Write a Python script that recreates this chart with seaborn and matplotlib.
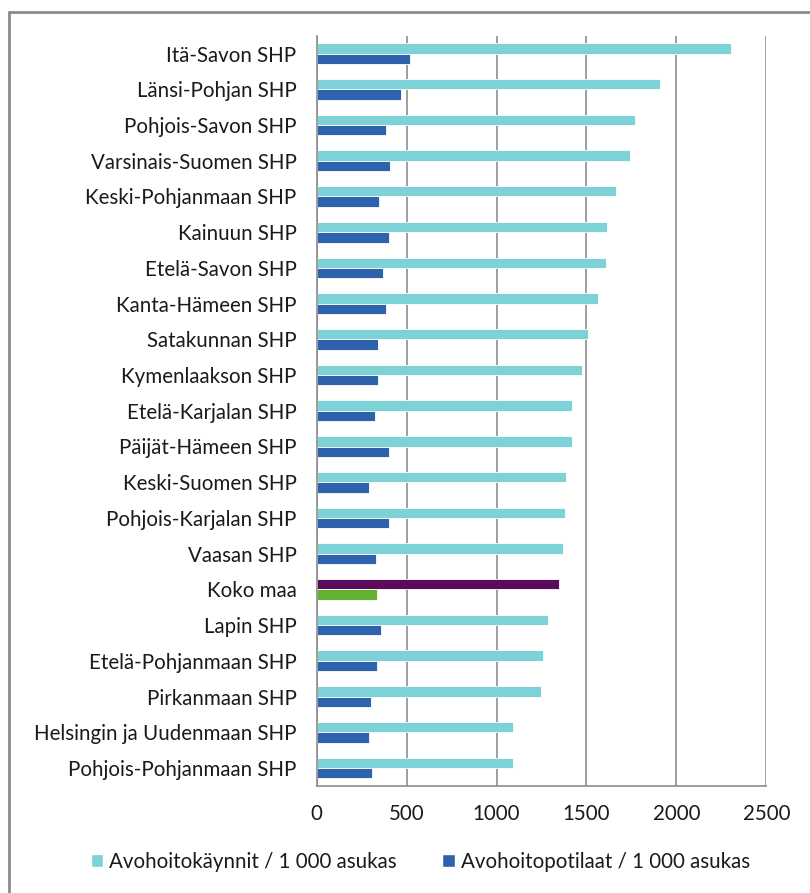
import pandas as pd
import matplotlib
matplotlib.use('Agg')
import matplotlib.pyplot as plt
import seaborn as sns
import numpy as np
from matplotlib.lines import Line2D
from matplotlib.patches import Patch

regions = [
    "Itä-Savon SHP", "Länsi-Pohjan SHP", "Pohjois-Savon SHP", "Varsinais-Suomen SHP",
    "Keski-Pohjanmaan SHP", "Kainuun SHP", "Etelä-Savon SHP", "Kanta-Hämeen SHP",
    "Satakunnan SHP", "Kymenlaakson SHP", "Etelä-Karjalan SHP", "Päijät-Hämeen SHP",
    "Keski-Suomen SHP", "Pohjois-Karjalan SHP", "Vaasan SHP", "Koko maa",
    "Lapin SHP", "Etelä-Pohjanmaan SHP", "Pirkanmaan SHP",
    "Helsingin ja Uudenmaan SHP", "Pohjois-Pohjanmaan SHP",
]
kaynnit = [2306, 1911, 1772, 1744, 1667, 1617, 1606, 1567, 1511, 1478, 1422,
           1417, 1389, 1378, 1367, 1350, 1289, 1256, 1250, 1094, 1094]
potilaat = [517, 467, 383, 406, 344, 400, 367, 383, 339, 339, 322,
            400, 289, 400, 328, 333, 356, 333, 300, 289, 306]

s1 = "Avohoitokäynnit / 1 000 asukas"
s2 = "Avohoitopotilaat / 1 000 asukas"

df = pd.concat([
    pd.DataFrame({"alue": regions, "arvo": kaynnit, "sarja": s1}),
    pd.DataFrame({"alue": regions, "arvo": potilaat, "sarja": s2}),
])

c_light = "#7dd2d8"
c_dark = "#2e62ad"
c_purple = "#5a0c5a"
c_green = "#62b22f"
txt = "#1a1a1a"
fs = 14.8

sns.set_style("white")
plt.rcParams['font.family'] = ['Lato', 'DejaVu Sans']

fig = plt.figure(figsize=(8.1, 8.93), dpi=100)
ax = fig.add_axes([0.391, 0.120, 0.555, 0.840])

sns.barplot(data=df, y="alue", x="arvo", hue="sarja", orient="h",
            palette=[c_light, c_dark], saturation=1, width=0.58, ax=ax,
            edgecolor="white", linewidth=0.6, legend=False)

# Koko maa in its own colours
k = regions.index("Koko maa")
ax.containers[0][k].set_facecolor(c_purple)
ax.containers[1][k].set_facecolor(c_green)

ax.set_xlim(0, 2500)
ax.set_ylim(len(regions) - 0.5, -0.5)
ax.set_xticks(range(0, 2501, 500))
ax.grid(axis="x", color="#8c8c8c", linewidth=1.2)
ax.set_axisbelow(True)
ax.set_xlabel("")
ax.set_ylabel("")

for s in ["top", "right"]:
    ax.spines[s].set_visible(False)
for s in ["left", "bottom"]:
    ax.spines[s].set_color("#8c8c8c")
    ax.spines[s].set_linewidth(1.2)

ax.tick_params(axis="y", length=0, pad=14.5, labelsize=fs, labelcolor=txt)
ax.set_yticks(np.arange(-0.5, len(regions), 1), minor=True)
ax.tick_params(axis="y", which="minor", length=5, color="#8c8c8c", width=1.2, direction="out")
ax.tick_params(axis="x", length=5, color="#8c8c8c", width=1.2, direction="out",
               pad=8, labelsize=fs, labelcolor=txt)

handles = [Patch(facecolor=c_light, label=s1), Patch(facecolor=c_dark, label=s2)]
fig.legend(handles=handles, loc="center", bbox_to_anchor=(0.519, 0.035), ncol=2,
           frameon=False, fontsize=fs, handlelength=0.6, handleheight=0.6,
           handletextpad=0.3, columnspacing=2.2, labelcolor=txt)

# frame lines (top and left) of the original picture
fig.add_artist(Line2D([0.011, 1.0], [0.9865, 0.9865], color="#8c8c8c", linewidth=2,
                      transform=fig.transFigure))
fig.add_artist(Line2D([0.011, 0.011], [0.0, 0.9865], color="#8c8c8c", linewidth=2,
                      transform=fig.transFigure))

fig.savefig("out.png", dpi=100, facecolor="white")
